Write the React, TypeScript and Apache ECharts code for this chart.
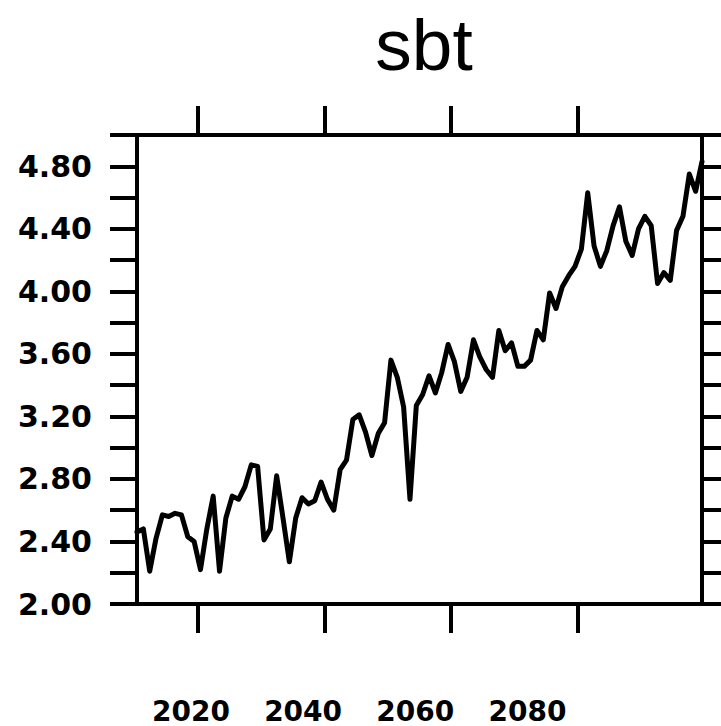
import React, { useEffect, useRef } from "react";
import * as echarts from "echarts";

const titleText = "sbt";
const startYear = 2010.5;
const sbtValues = [
  2.46, 2.48, 2.21, 2.42, 2.57, 2.56, 2.58, 2.57, 2.43, 2.40,
  2.22, 2.48, 2.69, 2.21, 2.55, 2.69, 2.67, 2.75, 2.89, 2.88,
  2.41, 2.48, 2.82, 2.55, 2.27, 2.55, 2.68, 2.64, 2.66, 2.78,
  2.67, 2.60, 2.86, 2.92, 3.18, 3.21, 3.10, 2.95, 3.09, 3.16,
  3.56, 3.45, 3.26, 2.67, 3.27, 3.34, 3.46, 3.35, 3.48, 3.66,
  3.55, 3.36, 3.45, 3.69, 3.58, 3.50, 3.45, 3.75, 3.62, 3.67,
  3.52, 3.52, 3.56, 3.75, 3.69, 3.99, 3.89, 4.03, 4.10, 4.16,
  4.27, 4.63, 4.29, 4.16, 4.26, 4.42, 4.54, 4.32, 4.23, 4.40,
  4.48, 4.42, 4.05, 4.12, 4.07, 4.39, 4.48, 4.75, 4.64, 4.83,
];
const years = sbtValues.map((_, i) => startYear + i);
const xTickYears = [2020, 2040, 2060, 2080];
const xLabelYears = [2020, 2040, 2060, 2080];
const yMin = 2.0;
const yMax = 5.0;
const yTickStep = 0.2;
const yLabelStep = 0.4;

export default function App() {
  const ref = useRef<HTMLDivElement>(null);
  useEffect(() => {
    if (!ref.current) return;
    const chart = echarts.init(ref.current, undefined, { renderer: "svg" });
    const black = "#000000";
    const frameLine = { color: black, width: 4, cap: "square" as const };
    const tickLine = { color: black, width: 4 };
    const option = {
      animation: false,
      backgroundColor: "#ffffff",
      title: {
        text: titleText,
        left: 419,
        top: 3,
        textAlign: "center",
        textStyle: {
          fontFamily: "Liberation Sans",
          fontSize: 73,
          fontWeight: "normal",
          color: black,
        },
      },
      grid: { left: 137, right: 19, top: 135, bottom: 122, containLabel: false },
      xAxis: [
        {
          type: "value",
          min: startYear,
          max: startYear + sbtValues.length - 1,
          position: "bottom",
          axisLine: { show: true, onZero: false, lineStyle: frameLine },
          axisTick: { show: true, inside: false, length: 29, lineStyle: tickLine, customValues: xTickYears },
          axisLabel: { show: false },
          splitLine: { show: false },
        },
        {
          type: "value",
          min: startYear,
          max: startYear + sbtValues.length - 1,
          position: "top",
          axisLine: { show: true, onZero: false, lineStyle: frameLine },
          axisTick: { show: true, inside: false, length: 29, lineStyle: tickLine, customValues: xTickYears },
          axisLabel: { show: false },
          splitLine: { show: false },
        },
        {
          type: "value",
          min: 2010.38,
          max: 2111.13,
          position: "bottom",
          axisLine: { show: false },
          axisTick: { show: false },
          splitLine: { show: false },
          axisLabel: {
            show: true,
            customValues: xLabelYears,
            margin: 94,
            lineHeight: 26,
            formatter: (v: number) => String(Math.round(v)),
            fontFamily: "DejaVu Sans",
            fontWeight: "bold",
            fontSize: 28,
            color: black,
          },
        },
      ],
      yAxis: [
        {
          type: "value",
          min: yMin,
          max: yMax,
          interval: yTickStep,
          position: "left",
          axisLine: { show: true, onZero: false, lineStyle: frameLine },
          axisTick: { show: true, inside: false, length: 27, lineStyle: tickLine },
          splitLine: { show: false },
          axisLabel: {
            show: true,
            margin: 45,
            fontFamily: "DejaVu Sans",
            fontWeight: "bold",
            fontSize: 30,
            color: black,
            formatter: (v: number) => {
              const k = (v - yMin) / yLabelStep;
              return Math.abs(k - Math.round(k)) < 1e-6 ? v.toFixed(2) : "";
            },
          },
        },
        {
          type: "value",
          min: yMin,
          max: yMax,
          interval: yTickStep,
          position: "right",
          axisLine: { show: true, onZero: false, lineStyle: frameLine },
          axisTick: { show: true, inside: false, length: 27, lineStyle: tickLine },
          splitLine: { show: false },
          axisLabel: { show: false },
        },
      ],
      series: [
        {
          type: "line",
          xAxisIndex: 0,
          yAxisIndex: 0,
          data: years.map((y, i) => [y, sbtValues[i]]),
          showSymbol: false,
          symbol: "none",
          lineStyle: { color: black, width: 5, join: "round", cap: "round" },
          z: 1,
        },
      ],
    };
    chart.setOption(option as any);
    return () => chart.dispose();
  }, []);
  return (
    <div
      ref={ref}
      style={{ position: "fixed", left: 0, top: 0, width: 721, height: 726, background: "#fff" }}
    />
  );
}
